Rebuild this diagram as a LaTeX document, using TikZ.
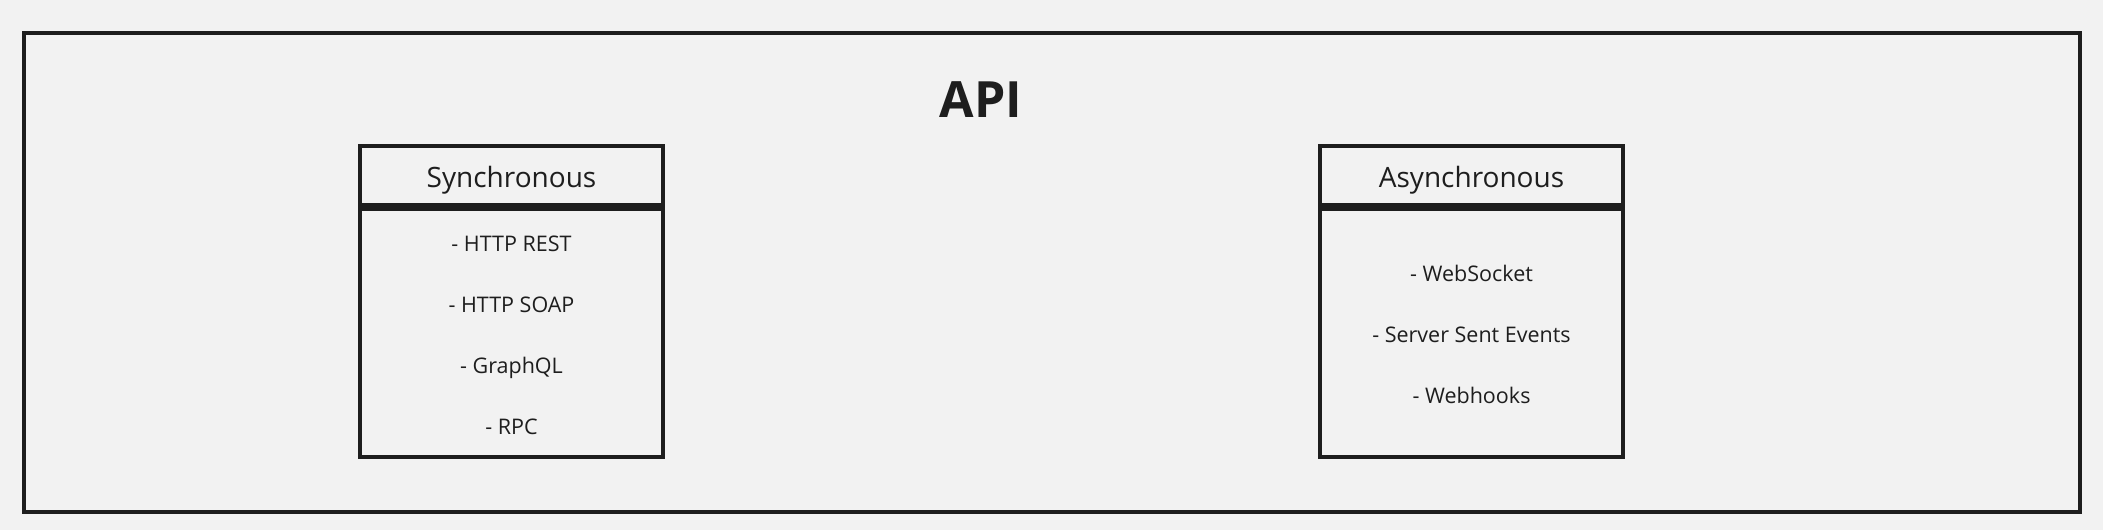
\documentclass[tikz,border=0pt]{standalone}
\usepackage{fontspec}
\setmainfont{Open Sans}
\definecolor{bg}{HTML}{F2F2F2}
\definecolor{ink}{HTML}{1E1E1E}
\tikzset{
  boxline/.style={draw=ink, line width=4pt},
  headtxt/.style={text=ink, font=\fontsize{28}{32}\selectfont, anchor=base, inner sep=0pt},
  itemtxt/.style={text=ink, font=\fontsize{21.5}{26}\selectfont, anchor=base, inner sep=0pt},
  titletxt/.style={text=ink, font=\fontsize{50}{56}\selectfont\bfseries, anchor=base, inner sep=0pt}
}
\begin{document}
\begin{tikzpicture}[x=1pt, y=-1pt]
\fill[bg] (0,0) rectangle (2103,530);
\useasboundingbox (0,0) rectangle (2103,530);
% outer frame
\draw[boxline] (24,33) rectangle (2080,512);
\node[titletxt] (title) at (981,117) {API};
% synchronous
\draw[boxline] (360,146) rectangle (663,205);
\draw[boxline] (360,209.3) rectangle (663,457);
\node[headtxt] (synch) at (511.5,187) {Synchronous};
\node[itemtxt] (s1) at (511.5,251.5) {- HTTP REST};
\node[itemtxt] (s2) at (511.5,312.5) {- HTTP SOAP};
\node[itemtxt] (s3) at (511.5,373) {- GraphQL};
\node[itemtxt] (s4) at (511.5,434) {- RPC};
% asynchronous
\draw[boxline] (1320,146) rectangle (1623,205);
\draw[boxline] (1320,209.3) rectangle (1623,457);
\node[headtxt] (asynch) at (1471.5,187) {Asynchronous};
\node[itemtxt] (a1) at (1471.5,281.5) {- WebSocket};
\node[itemtxt] (a2) at (1471.5,342) {- Server Sent Events};
\node[itemtxt] (a3) at (1471.5,403) {- Webhooks};
\end{tikzpicture}
\end{document}
